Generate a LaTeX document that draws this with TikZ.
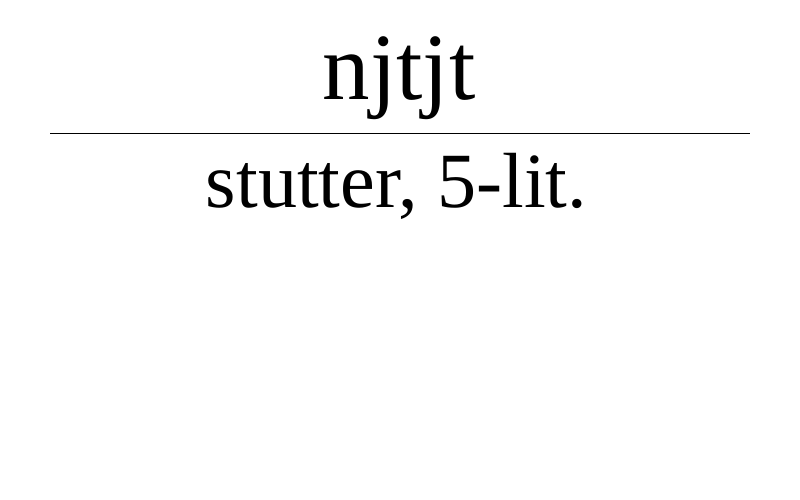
\documentclass[tikz,border=0pt]{standalone}
\usepackage{fontspec}
\setmainfont{Liberation Serif}
\usepackage{tikz}

\begin{document}
\begin{tikzpicture}[word/.style={anchor=base, inner sep=0pt}]
	%\draw[help lines, thick] (0,0) grid (16,10);
	\useasboundingbox (0,0) rectangle (16,10);
	\node[word, font=\fontsize{54}{60}\selectfont] (top) at (7.98,8) {njtjt};
	\coordinate (left) at (1,7.33);
	\coordinate (right) at (15,7.33);
	\draw[line width=0.5pt] (left) -- (right);
	\node[word, font=\fontsize{44.5}{50}\selectfont] (bottom) at (7.93,5.84) {stutter, 5-lit.};
\end{tikzpicture}
\end{document}
